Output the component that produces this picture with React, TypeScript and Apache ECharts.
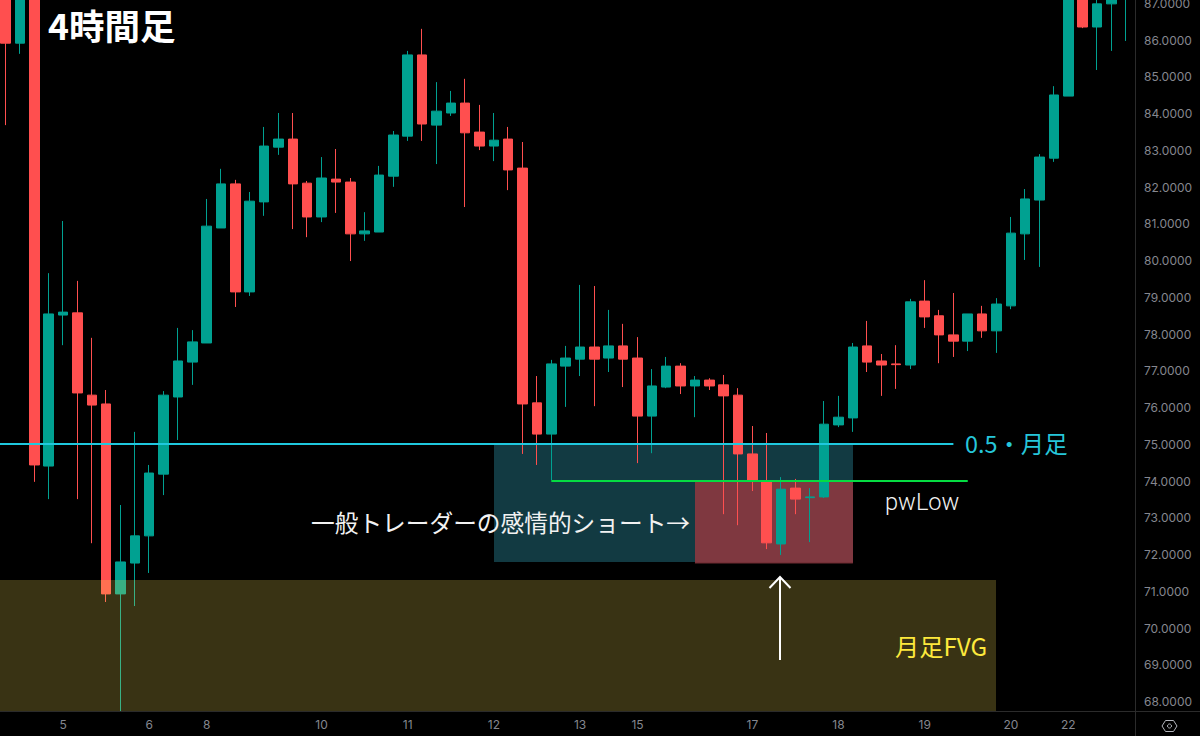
import { useRef, useEffect } from "react"
import * as echarts from "echarts"

// one entry per 4h candle, left to right
const opens = [
  87.4, 85.92, 87.6, 74.41, 78.52, 78.58, 76.34, 76.1, 70.93, 71.77,
  72.51, 74.19, 76.29, 77.24, 77.76, 80.89, 82.09, 79.15, 81.6, 83.09,
  83.31, 82.11, 81.19, 82.22, 82.14, 80.73, 80.78, 82.3, 83.39, 85.6,
  83.69, 84.02, 84.29, 83.5, 83.12, 83.31, 82.52, 76.13, 75.28, 77.13,
  77.32, 77.65, 77.35, 77.68, 77.35, 75.77, 76.56, 77.13, 76.59, 76.75,
  76.62, 76.34, 74.74, 73.98, 72.29, 73.81, 73.55, 73.57, 75.53, 75.72,
  77.68, 77.27, 77.19, 77.16, 78.9, 78.5, 77.98, 77.81, 78.55, 78.09,
  78.77, 80.73, 81.65, 82.79, 84.48, 87.6, 86.36, 86.99, 87.3,
]
const closes = [
  85.92, 87.3, 74.44, 78.55, 78.6, 76.4, 76.07, 70.93, 71.8, 72.51,
  74.22, 76.34, 77.27, 77.79, 80.94, 82.09, 79.15, 81.62, 83.12, 83.31,
  82.09, 81.19, 82.25, 82.14, 80.73, 80.81, 82.33, 83.42, 85.6, 83.72,
  84.07, 84.29, 83.48, 83.12, 83.28, 82.47, 76.1, 75.28, 77.19, 77.35,
  77.65, 77.32, 77.68, 77.32, 75.77, 76.59, 77.13, 76.59, 76.75, 76.59,
  76.32, 74.74, 74.03, 72.32, 73.78, 73.51, 73.57, 75.55, 75.74, 77.65,
  77.24, 77.16, 77.17, 78.88, 78.47, 77.98, 77.81, 78.55, 78.09, 78.82,
  80.75, 81.68, 82.82, 84.51, 87.5, 86.36, 86.99, 87.2, 87.6,
]
const lows = [
  83.69, 85.63, 73.98, 73.51, 77.7, 73.51, 72.31, 70.71, 67.74, 70.6,
  71.5, 73.62, 75.12, 76.62, 77.76, 80.89, 78.74, 79.04, 81.22, 82.88,
  80.86, 80.64, 81.05, 81.3, 79.99, 80.54, 80.78, 82.01, 83.26, 83.26,
  82.63, 83.94, 81.46, 83.01, 82.71, 81.92, 74.74, 74.44, 74.03, 76.02,
  76.86, 76.04, 76.97, 76.56, 74.49, 74.76, 76.53, 76.37, 75.74, 76.48,
  73.1, 72.8, 73.73, 72.15, 71.99, 73.1, 72.34, 73.54, 75.47, 75.34,
  76.97, 76.32, 76.51, 77.05, 78.17, 77.21, 77.38, 77.54, 77.9, 77.49,
  78.68, 80.02, 79.83, 82.69, 84.48, 86.33, 85.19, 85.71, 85.98,
]
const highs = [
  87.6, 87.5, 87.8, 79.66, 81.08, 79.45, 77.9, 76.48, 73.35, 75.34,
  74.44, 76.45, 78.17, 78.11, 81.68, 82.5, 82.2, 81.87, 83.64, 84.02,
  84.02, 82.17, 82.82, 83.04, 82.25, 81.32, 82.58, 83.53, 85.71, 86.31,
  84.86, 84.62, 84.95, 84.24, 84.02, 83.64, 83.23, 76.86, 77.3, 77.68,
  79.34, 79.31, 78.66, 78.28, 77.92, 77.05, 77.38, 77.21, 76.86, 76.8,
  76.89, 76.53, 75.5, 75.31, 74.11, 74.06, 73.81, 76.18, 76.32, 77.76,
  78.36, 77.46, 77.7, 78.96, 79.47, 78.66, 79.12, 78.55, 78.77, 78.98,
  81.19, 81.95, 82.9, 84.75, 87.7, 87.7, 87.3, 87.5, 87.8,
]

const dayLabels = ["5", "6", "8", "10", "11", "12", "13", "15", "17", "18", "19", "20", "22"]
const dayCandles = [4, 10, 14, 22, 28, 34, 40, 44, 52, 58, 64, 70, 74]

// [first candle, last candle, top price, bottom price]
const shortZone = [34, 59, 75.01, 71.8]
const stopZone = [48, 59, 74.0, 71.77]
const fvgZone = [-1, 69, 71.31, 67.73]

// [first candle, last candle, price]
const halfLevel = [-1, 66, 75]
const pwLowLevel = [38, 67, 74]
const stopEdge = [48, 59, 71.77]

const UP = "#00a191"
const DOWN = "#ff4f4f"
const AXIS_TEXT = "#85878f"
const DIVIDER = "#2b2b2b"
const JP_FONT = '"Noto Sans CJK JP", sans-serif'

const categories = opens.map((_, i) => String(i))
const candles = opens.map((o, i) => [o, closes[i], lows[i], highs[i]])

function zoneSeries(zone: number[], fill: string, z: number) {
  return {
    type: "custom",
    z,
    silent: true,
    data: [zone],
    renderItem: (_: any, api: any) => {
      const a = api.coord([zone[0], zone[2]])
      const b = api.coord([zone[1], zone[3]])
      const x = Math.round(a[0])
      const y = Math.round(a[1])
      return {
        type: "rect",
        shape: { x, y, width: Math.round(b[0]) - x, height: Math.round(b[1]) - y },
        style: { fill },
      }
    },
  }
}

// drawn as a thin rect so it lands on whole pixels
function levelSeries(level: number[], fill: string, thickness: number) {
  return {
    type: "custom",
    z: 6,
    silent: true,
    data: [level],
    renderItem: (_: any, api: any) => {
      const a = api.coord([level[0], level[2]])
      const b = api.coord([level[1], level[2]])
      return {
        type: "rect",
        shape: { x: a[0], y: Math.round(a[1]) - thickness / 2, width: b[0] - a[0], height: thickness },
        style: { fill },
      }
    },
  }
}

function label(text: string, x: number, y: number, fill: string, fontSize: number, extra: any = {}) {
  return {
    type: "text",
    x,
    y,
    z: 20,
    style: { text, fill, fontSize, fontFamily: JP_FONT, verticalAlign: "middle", ...extra },
  }
}

export default function App() {
  const chartRef = useRef<HTMLDivElement>(null)

  useEffect(() => {
    document.body.style.margin = "0"
    document.body.style.background = "#000"
    if (!chartRef.current) return
    const chart = echarts.init(chartRef.current, undefined, { renderer: "svg" })

    chart.setOption({
      animation: false,
      backgroundColor: "#000",
      grid: { left: -1.55, top: -33.24, width: 1134.44, height: 771.54, outerBoundsMode: "none" },
      xAxis: {
        type: "category",
        data: categories,
        offset: -26.74,
        axisLine: { show: false },
        axisTick: { show: false },
        splitLine: { show: false },
        axisLabel: {
          interval: (i: number) => dayCandles.includes(i),
          formatter: (v: string) => dayLabels[dayCandles.indexOf(Number(v))] ?? "",
          color: AXIS_TEXT,
          fontSize: 12,
          fontFamily: "Inter",
          margin: 7,
        },
      },
      yAxis: {
        type: "value",
        position: "right",
        offset: 2.11,
        min: 67,
        max: 88,
        interval: 1,
        scale: true,
        axisLine: { show: false },
        axisTick: { show: false },
        splitLine: { show: false },
        axisLabel: {
          showMinLabel: false,
          showMaxLabel: false,
          formatter: (v: number) => v.toFixed(4),
          color: AXIS_TEXT,
          fontSize: 12,
          fontFamily: "Inter",
          margin: 9,
        },
      },
      series: [
        zoneSeries(shortZone, "#123a42", 1),
        zoneSeries(stopZone, "#7f3840", 1),
        {
          type: "candlestick",
          z: 3,
          data: candles,
          barWidth: 10,
          itemStyle: {
            color: UP,
            color0: DOWN,
            borderColor: UP,
            borderColor0: DOWN,
            borderColorDoji: UP,
            borderWidth: 1,
          },
        },
        zoneSeries(fvgZone, "rgba(255,226,90,0.225)", 5),
        levelSeries(halfLevel, "#1fc8de", 2),
        levelSeries(pwLowLevel, "#05dc42", 2),
        levelSeries(stopEdge, "#6e2a31", 1),
      ],
      graphic: [
        { type: "line", z: 10, shape: { x1: 0, y1: 711.5, x2: 1200, y2: 711.5 }, style: { stroke: DIVIDER, lineWidth: 1 } },
        { type: "line", z: 10, shape: { x1: 1135.5, y1: 0, x2: 1135.5, y2: 736 }, style: { stroke: DIVIDER, lineWidth: 1 } },
        label("4時間足", 48, 24, "#fff", 35.5, { fontWeight: "bold" }),
        label("一般トレーダーの感情的ショート→", 311, 521.5, "#f2f2f2", 23.7),
        label("0.5・月足", 965, 443, "#26c6da", 23.4),
        label("pwLow", 885, 502, "#f2f2f2", 23.6, { fontFamily: "Roboto", fontWeight: 300 }),
        label("月足FVG", 895, 645.5, "#fde93c", 24.2),
        // arrow up to the low
        { type: "line", z: 10, shape: { x1: 780, y1: 660, x2: 780, y2: 577 }, style: { stroke: "#fff", lineWidth: 2 } },
        { type: "polyline", z: 10, shape: { points: [[769.5, 588], [780, 577], [790.5, 588]] }, style: { stroke: "#fff", lineWidth: 2, fill: "none" } },
        // settings hexagon in the corner
        {
          type: "polygon",
          z: 10,
          shape: { points: [[1162, 726], [1165.5, 720.5], [1173.5, 720.5], [1177, 726], [1173.5, 731.5], [1165.5, 731.5]] },
          style: { stroke: "#b4b6bd", lineWidth: 1, fill: "none" },
        },
        { type: "circle", z: 10, shape: { cx: 1169.5, cy: 726, r: 2 }, style: { stroke: "#b4b6bd", lineWidth: 1, fill: "none" } },
      ],
    })

    return () => chart.dispose()
  }, [])

  return <div ref={chartRef} style={{ width: 1200, height: 736 }} />
}
